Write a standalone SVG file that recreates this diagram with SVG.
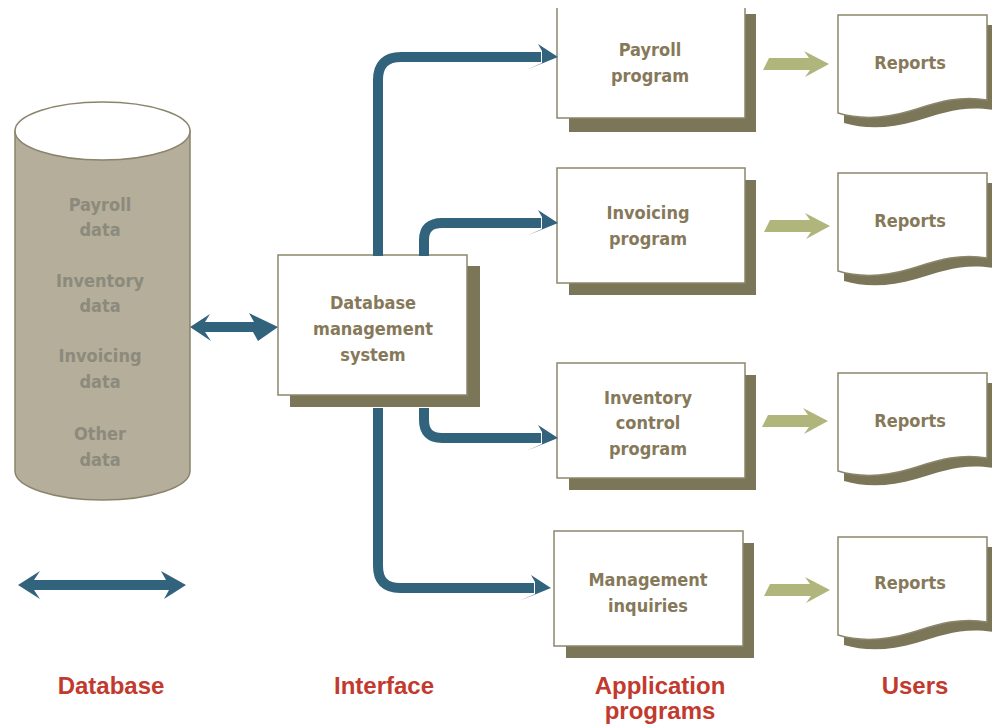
<svg xmlns="http://www.w3.org/2000/svg" width="992" height="724" viewBox="0 0 992 724">
<style>
.nt{font-family:"DejaVu Sans Condensed","DejaVu Sans",sans-serif;font-stretch:condensed;font-weight:bold;font-size:18px;fill:#86795a;text-anchor:middle}
.ct{font-family:"DejaVu Sans Condensed","DejaVu Sans",sans-serif;font-stretch:condensed;font-weight:bold;font-size:18px;fill:#8c8a7c;text-anchor:middle}
.lab{font-family:"Liberation Sans",Arial,sans-serif;font-weight:bold;font-size:24px;fill:#c23a2e;text-anchor:middle}
.box{fill:#fff;stroke:#8c876c;stroke-width:1.5}
.sh{fill:#7b7657}
.conn{fill:none;stroke:#32637d;stroke-width:10}
.head{fill:#32637d}
.green{fill:#afb57b}
</style>
<defs>
<path id="doc" d="M0,0 H149 V85 C120,80 98,88 72,96 C45,104 20,104 0,98 Z"/>
<path id="bhead" d="M0,0 L-20,-13 L-16,-6 L-16,6 L-32,13 Z"/>
<polygon id="garrow" points="6,-6 46,-6 41,-13 66,0 42,13 47,6 0,6"/>
</defs>

<g id="database">
<path d="M15,131 V471 A87.5,29 0 0 0 190,471 V131 Z" fill="#b4ae9b" stroke="#8a846c" stroke-width="1.5"/>
<ellipse cx="102.5" cy="131" rx="87.5" ry="29" fill="#fff" stroke="#8a846c" stroke-width="1.5"/>
<text class="ct" x="100" y="211">Payroll</text>
<text class="ct" x="100" y="236">data</text>
<text class="ct" x="100" y="287">Inventory</text>
<text class="ct" x="100" y="312">data</text>
<text class="ct" x="100" y="362">Invoicing</text>
<text class="ct" x="100" y="388">data</text>
<text class="ct" x="100" y="440">Other</text>
<text class="ct" x="100" y="466">data</text>
</g>

<g id="dbms">
<rect class="sh" x="290" y="266" width="190" height="141"/>
<rect class="box" x="278" y="255" width="189" height="140"/>
<text class="nt" x="373" y="309">Database</text>
<text class="nt" x="373" y="335">management</text>
<text class="nt" x="373" y="361">system</text>
</g>

<g id="payroll">
<rect class="sh" x="569" y="14" width="187" height="118"/>
<rect x="557" y="0" width="188" height="118" fill="#fff"/>
<path d="M557,8 V118 H745 V8" fill="none" stroke="#8c876c" stroke-width="1.5"/>
<text class="nt" x="650" y="56">Payroll</text>
<text class="nt" x="650" y="82">program</text>
</g>

<g id="invoicing">
<rect class="sh" x="569" y="180" width="187" height="115"/>
<rect class="box" x="557" y="168" width="188" height="115"/>
<text class="nt" x="648" y="219">Invoicing</text>
<text class="nt" x="648" y="245">program</text>
</g>

<g id="inventory">
<rect class="sh" x="569" y="375" width="187" height="115"/>
<rect class="box" x="557" y="363" width="188" height="115"/>
<text class="nt" x="648" y="404">Inventory</text>
<text class="nt" x="648" y="429">control</text>
<text class="nt" x="648" y="455">program</text>
</g>

<g id="management">
<rect class="sh" x="566" y="543" width="188" height="115"/>
<rect class="box" x="554" y="531" width="189" height="115"/>
<text class="nt" x="648" y="586">Management</text>
<text class="nt" x="648" y="612">inquiries</text>
</g>

<g id="reports1">
<use href="#doc" x="844" y="25" class="sh"/>
<use href="#doc" x="838" y="15" class="box"/>
<text class="nt" x="910" y="69">Reports</text>
</g>
<g id="reports2">
<use href="#doc" x="844" y="183" class="sh"/>
<use href="#doc" x="838" y="173" class="box"/>
<text class="nt" x="910" y="227">Reports</text>
</g>
<g id="reports3">
<use href="#doc" x="844" y="383" class="sh"/>
<use href="#doc" x="838" y="373" class="box"/>
<text class="nt" x="910" y="427">Reports</text>
</g>
<g id="reports4">
<use href="#doc" x="844" y="547" class="sh"/>
<use href="#doc" x="838" y="537" class="box"/>
<text class="nt" x="910" y="589">Reports</text>
</g>

<g id="connectors">
<polygon class="head" points="190,327 210,314 205,322 254,322 249,313 278,327 258,341 253,332 205,332 211,341"/>
<path class="conn" d="M378,256 V80 Q378,57 401,57 H541"/>
<use href="#bhead" class="head" transform="translate(558,57)"/>
<path class="conn" d="M424,256 V240 Q424,223 442,223 H541"/>
<use href="#bhead" class="head" transform="translate(558,223)"/>
<path class="conn" d="M424,408 V420 Q424,438 442,438 H541"/>
<use href="#bhead" class="head" transform="translate(558,438)"/>
<path class="conn" d="M378,408 V566 Q378,588 400,588 H534"/>
<use href="#bhead" class="head" transform="translate(551,588)"/>
<use href="#garrow" class="green" transform="translate(763,64)"/>
<use href="#garrow" class="green" transform="translate(764,226)"/>
<use href="#garrow" class="green" transform="translate(762,421)"/>
<use href="#garrow" class="green" transform="translate(764,590)"/>
</g>

<g id="legend">
<polygon class="head" points="18,585 40,571 34,580 166,580 161,571 186,585 164,599 169,590 34,590 40,599"/>
</g>

<g id="labels">
<text class="lab" x="111" y="694">Database</text>
<text class="lab" x="384" y="694">Interface</text>
<text class="lab" x="660" y="694">Application</text>
<text class="lab" x="660" y="719">programs</text>
<text class="lab" x="915" y="694">Users</text>
</g>
</svg>
